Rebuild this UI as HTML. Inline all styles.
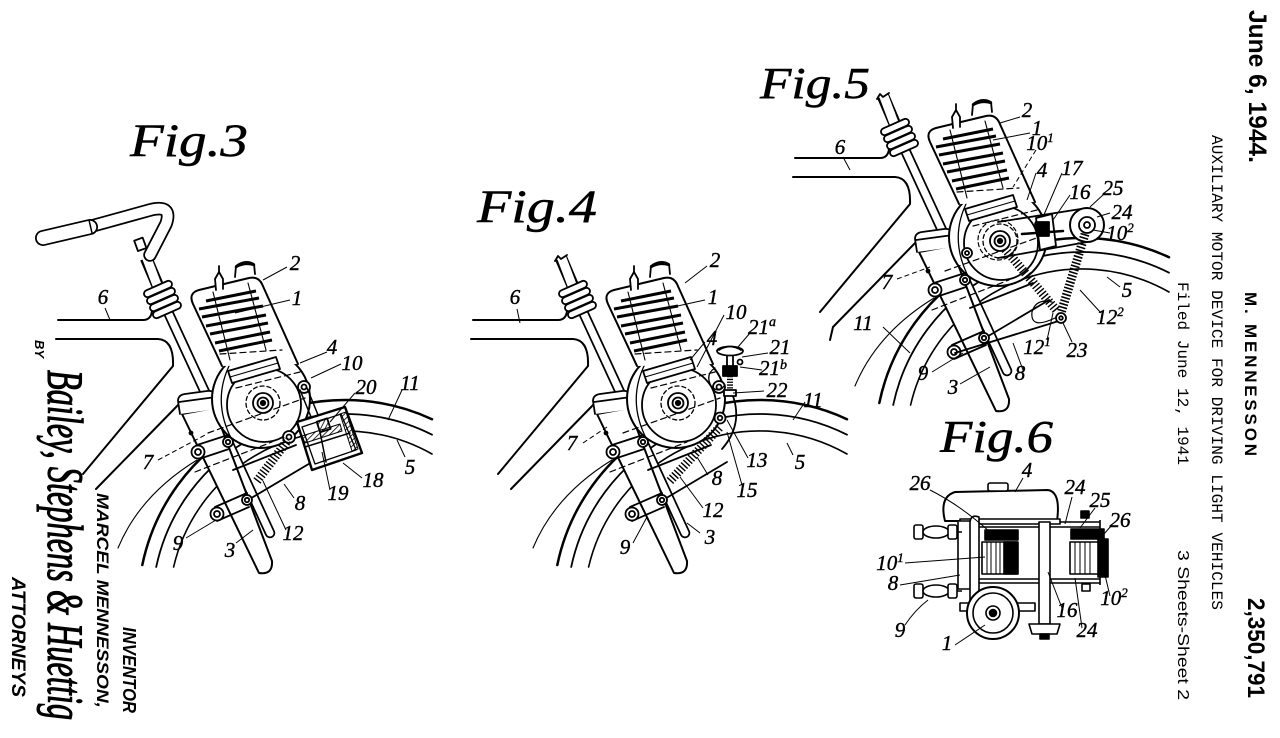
<!DOCTYPE html>
<html><head><meta charset="utf-8"><style>
html,body{margin:0;padding:0;background:#fff;width:1280px;height:738px;overflow:hidden;}
svg{display:block;}
text{font-family:"Liberation Serif",serif;}
.lb{font-family:"Liberation Serif",serif;font-style:italic;font-size:21px;fill:#000;stroke:#000;stroke-width:0.4;}
</style></head><body>
<svg width="1280" height="738" viewBox="0 0 1280 738" xmlns="http://www.w3.org/2000/svg">
<defs>
<pattern id="h" width="4" height="4" patternUnits="userSpaceOnUse" patternTransform="rotate(45)"><line x1="0" y1="0" x2="0" y2="4" stroke="#000" stroke-width="1.6"/></pattern>
<g id="bike" fill="none" stroke="#000" stroke-width="1.8" stroke-linejoin="round" stroke-linecap="round">
 <path d="M142.3,565 A207,207 0 0 1 432,419.2" stroke-width="2.5"/>
 <path d="M156.2,567 A193,193 0 0 1 432,434.7" stroke-width="1.8"/>
 <path d="M173.6,567 A176,176 0 0 1 432,454" stroke-width="1.6"/>
 <path d="M118,548 Q140,495 197,460" stroke-width="1.1"/>
 <path d="M58,320 L143,320 Q151,320 152,311" stroke-width="2"/>
 <path d="M56,339 L158,339 Q174,340 173,366 L83,474" stroke-width="2"/>
 <path d="M181,402 L96,489" stroke-width="2"/>
 <path d="M168,312 L270,533" stroke-width="10.5"/>
 <path d="M168,312 L270,533" stroke="#fff" stroke-width="7"/>
 <path d="M182,414 L214,408 L272,561 Q273,575 259,573 Z" fill="#fff" stroke-width="2"/>
 <circle cx="191" cy="433" r="1.5" fill="#000"/>
 <path d="M180,414 L178,401 Q178,395 185,394 L207,391 Q214,390 215,396 L217,409" fill="#fff"/>
 <path d="M179,402 L216,397"/>
 <path d="M146,258 L160,291" stroke-width="12.5" stroke-linecap="butt"/>
 <path d="M146,256 L160,293" stroke="#fff" stroke-width="9" stroke-linecap="butt"/>
 <g fill="#fff">
  <rect x="-15" y="-3.5" width="30" height="7" rx="3.5" transform="translate(158,289) rotate(-24)"/>
  <rect x="-15" y="-3.5" width="30" height="7" rx="3.5" transform="translate(161,296) rotate(-24)"/>
  <rect x="-15" y="-3.5" width="30" height="7" rx="3.5" transform="translate(164,303) rotate(-24)"/>
  <rect x="-15" y="-3.5" width="30" height="7" rx="3.5" transform="translate(167,310) rotate(-24)"/>
 </g>
 <circle cx="261" cy="399" r="49" fill="#fff" stroke-width="2"/>
 <path d="M231,362 Q211,400 232,440" stroke-width="1.3"/>
 <path d="M222,366 L193,304 Q188,293 199,290 L249,278 Q258,276 262,284 L298,364" fill="#fff" stroke-width="2"/>
 <path d="M213,292 L230,360 M248,283 L266,350" stroke-width="1.1"/>
 <path d="M206,301 L256,291 M199,309 L259,298 M202,317 L263,306 M206,326 L266,315 M210,334 L268,323 M215,343 L270,332 M219,351 L272,340" stroke-width="3" stroke-linecap="butt"/>
 <path d="M216,290 L215,279 L219,272 L223,279 L223,289" fill="#fff"/>
 <path d="M219,272 L219,266" />
 <path d="M235,277 L236,266 Q245,259 254,264 L255,274" fill="#fff"/>
 <path d="M236,267 Q245,262 254,265" stroke-width="2.5"/>
 <circle cx="264" cy="405" r="37" fill="#fff"/>
 <path d="M228,371 L276,357 L280,369 L232,383 Z" fill="#fff"/>
 <path d="M230,377 L278,363" stroke-width="1.1"/>
 <circle cx="263" cy="403" r="17" stroke-dasharray="4 3" stroke-width="1.3"/>
 <circle cx="263" cy="403" r="10"/>
 <circle cx="263" cy="403" r="5.5"/>
 <circle cx="263" cy="403" r="2.2" fill="#000"/>
 <circle cx="304" cy="387" r="6" fill="#fff"/><circle cx="304" cy="387" r="2.5"/>
 <g stroke-dasharray="6 4" stroke-width="1.2">
  <path d="M220,354 L282,350"/>
  <path d="M236,388 L300,372"/>
  <path d="M208,433 L305,398"/>
  <path d="M195,472 L272,442"/>
 </g>
 <path d="M233,470 L296,445 M248,500 L312,462"/>
 <path d="M197,445 L228,435 M199,459 L229,449"/>
 <path d="M215,507 L247,493 M217,521 L249,507"/>
 <circle cx="198" cy="452" r="6.5" fill="#fff"/><circle cx="198" cy="452" r="3"/>
 <circle cx="228" cy="442" r="5" fill="#fff"/><circle cx="228" cy="442" r="2.2"/>
 <circle cx="217" cy="514" r="6.5" fill="#fff"/><circle cx="217" cy="514" r="3"/>
 <circle cx="247" cy="500" r="5" fill="#fff"/><circle cx="247" cy="500" r="2.2"/>
</g>
</defs>
<rect width="1280" height="738" fill="#fff"/>

<use href="#bike"/>
<use href="#bike" transform="translate(415,0)"/>
<use href="#bike" transform="translate(737,-162)"/>

<!-- FIG 3 specifics -->
<g fill="none" stroke="#000" stroke-width="1.8" stroke-linejoin="round" stroke-linecap="round">
 <path d="M92,226 L150,210 Q173,204 166,224 L150,255" stroke-width="13.5"/>
 <path d="M92,226 L150,210 Q173,204 166,224 L150,255" stroke="#fff" stroke-width="10"/>
 <path d="M43,238 L90,227" stroke-width="16"/>
 <path d="M43,238 L90,227" stroke="#fff" stroke-width="12.5"/>
 <path d="M89,220 L92,233" stroke-width="1.5"/>
 <rect x="136" y="239" width="9" height="11" fill="#fff" transform="rotate(-20 140 245)"/>
 <circle cx="289" cy="437" r="6" fill="#fff"/><circle cx="289" cy="437" r="2.5"/>
 <line x1="257" y1="481" x2="288" y2="440" stroke-width="9" stroke-dasharray="1.4 2" stroke-linecap="butt"/>
 <path d="M300,390 L318,434 M307,388 L325,432" stroke-width="1.5"/>
 <path d="M297,422 L345,407 L362,453 L312,470 Z" fill="#fff" stroke-width="2.4"/>
 <path d="M302,427 L341,414 L356,450 L315,464 Z" stroke-width="1.3"/>
 <path d="M302,436 L340,424 L342,431 L305,443 Z" fill="url(#h)" stroke-width="1"/>
 <path d="M340,414 L346,412 L358,449 L352,451 Z" fill="url(#h)" stroke-width="1"/>
 <path d="M305,447 L350,433" stroke-width="1.5"/>
 <rect x="318" y="420" width="11" height="11" fill="url(#h)" transform="rotate(-18 323 425)"/>
 <path d="M320,432 L326,462" stroke-width="1.5"/>
</g>
<g class="lb" text-anchor="middle">
 <text x="295" y="270">2</text><text x="297" y="305">1</text><text x="332" y="354">4</text>
 <text x="352" y="370">10</text><text x="366" y="394">20</text><text x="410" y="390">11</text>
 <text x="410" y="474">5</text><text x="373" y="487">18</text><text x="338" y="500">19</text>
 <text x="300" y="510">8</text><text x="293" y="540">12</text><text x="230" y="557">3</text>
 <text x="178" y="550">9</text><text x="148" y="469">7</text><text x="103" y="304">6</text>
</g>
<g fill="none" stroke="#000" stroke-width="1">
 <path d="M287,267 L263,280 M290,300 L235,313 M327,352 L300,363 M341,364 L311,378 M355,393 L330,422 M402,390 L388,420 M405,457 L397,440 M362,478 L343,463 M330,490 L322,452 M294,498 L284,484 M286,530 L263,481 M236,543 L253,530 M186,538 L216,520 M105,308 L110,320"/>
 <path d="M158,460 L207,434" stroke-dasharray="5 3"/>
</g>
<text x="130" y="156" font-size="47" font-style="italic" textLength="118" lengthAdjust="spacingAndGlyphs" stroke="#000" stroke-width="0.5">Fig.3</text>

<!-- FIG 4 specifics -->
<g fill="none" stroke="#000" stroke-width="1.8" stroke-linejoin="round" stroke-linecap="round">
 <path d="M555,261 L558,256 L561,259 L567,255"/>
 <line x1="670" y1="481" x2="720" y2="427" stroke-width="9" stroke-dasharray="1.4 2" stroke-linecap="butt"/>
 <path d="M733,396 Q743,425 722,449" />
 <circle cx="720" cy="418" r="5.5" fill="#fff"/><circle cx="720" cy="418" r="2.3"/>
 <path d="M715,368 Q705,374 711,386 Q719,394 724,386" stroke-width="1.3"/>
 <rect x="727" y="355" width="6" height="12" fill="#fff"/>
 <rect x="723" y="366" width="14" height="10" fill="#000"/>
 <line x1="730" y1="376" x2="730" y2="391" stroke-width="6" stroke-dasharray="1.3 1.5" stroke-linecap="butt"/>
 <rect x="724" y="390" width="12" height="6" fill="#fff"/>
 <ellipse cx="730" cy="351" rx="13" ry="4.5" fill="#fff"/>
 <path d="M719,350 Q730,343 741,350"/>
 <circle cx="740" cy="362" r="2.5"/>
</g>
<g class="lb" text-anchor="middle">
 <text x="715" y="267">2</text><text x="713" y="304">1</text><text x="736" y="319">10</text>
 <text x="712" y="345">4</text>
 <text x="762" y="334">21<tspan font-size="14" dy="-8">a</tspan></text>
 <text x="780" y="354">21</text>
 <text x="773" y="375">21<tspan font-size="14" dy="-6">b</tspan></text>
 <text x="777" y="397">22</text><text x="813" y="407">11</text><text x="800" y="469">5</text>
 <text x="757" y="467">13</text><text x="747" y="497">15</text><text x="717" y="485">8</text>
 <text x="713" y="517">12</text><text x="710" y="544">3</text><text x="625" y="554">9</text>
 <text x="572" y="450">7</text><text x="515" y="304">6</text>
</g>
<g fill="none" stroke="#000" stroke-width="1">
 <path d="M707,266 L685,283 M705,300 L673,307 M724,315 L697,367 M705,342 L690,360 M750,333 L738,347 M768,353 L742,357 M762,370 L740,367 M764,391 L733,393 M805,402 L793,420 M793,455 L787,443 M748,458 L727,420 M742,485 L727,432 M708,475 L697,457 M703,508 L680,477 M700,533 L687,523 M633,543 L647,517 M517,309 L520,323"/>
 <path d="M583,443 L607,427" stroke-dasharray="5 3"/>
</g>
<text x="477" y="222" font-size="47" font-style="italic" textLength="120" lengthAdjust="spacingAndGlyphs" stroke="#000" stroke-width="0.5">Fig.4</text>

<!-- FIG 5 specifics -->
<g fill="none" stroke="#000" stroke-width="1.8" stroke-linejoin="round" stroke-linecap="round">
 <path d="M877,99 L880,94 L883,97 L889,93"/>
 <circle cx="998" cy="240" r="20" stroke-dasharray="4 3" stroke-width="1.2"/>
 <path d="M998,222 L1087,208 M998,258 L1087,242"/>
 <circle cx="967" cy="253" r="5" fill="#fff"/><circle cx="967" cy="253" r="2"/>
 <circle cx="1087" cy="225" r="17" fill="#fff" stroke-width="2"/>
 <circle cx="1087" cy="225" r="8"/><circle cx="1087" cy="225" r="3"/>
 <path d="M1036,218 L1052,214 L1056,246 L1040,250 Z" fill="#fff"/>
 <rect x="1037" y="222" width="12" height="14" fill="#000"/>
 <path d="M1022,234 L1063,231" stroke-width="2.5"/>
 <line x1="1005" y1="249" x2="1057" y2="311" stroke-width="9" stroke-dasharray="1.4 2" stroke-linecap="butt"/>
 <line x1="1085" y1="234" x2="1061" y2="313" stroke-width="9" stroke-dasharray="1.6 1.7" stroke-linecap="butt"/>
 <path d="M955,353 L1062,320"/>
 <path d="M1055,318 Q1030,330 1032,312 Q1036,298 1052,302" stroke-width="1.2"/>
 <circle cx="1061" cy="318" r="5" fill="#fff"/><circle cx="1061" cy="318" r="1.8"/>
 <path d="M833,327 L830,340" stroke-width="2"/>
</g>
<g class="lb" text-anchor="middle">
 <text x="1027" y="117">2</text><text x="1037" y="135">1</text>
 <text x="1040" y="150">10<tspan font-size="13" dy="-8">1</tspan></text>
 <text x="1042" y="177">4</text><text x="1072" y="175">17</text><text x="1080" y="199">16</text>
 <text x="1113" y="195">25</text><text x="1122" y="219">24</text>
 <text x="1120" y="240">10<tspan font-size="13" dy="-8">2</tspan></text>
 <text x="840" y="154">6</text><text x="887" y="289">7</text><text x="1127" y="297">5</text>
 <text x="1110" y="324">12<tspan font-size="13" dy="-8">2</tspan></text>
 <text x="863" y="330">11</text>
 <text x="1037" y="354">12<tspan font-size="13" dy="-8">1</tspan></text>
 <text x="1077" y="357">23</text><text x="923" y="380">9</text><text x="953" y="394">3</text>
 <text x="1020" y="380">8</text>
</g>
<g fill="none" stroke="#000" stroke-width="1">
 <path d="M1020,117 L1000,123 M1030,133 L993,140 M1036,173 L1027,200 M1062,173 L1043,217 M1070,195 L1053,220 M1104,194 L1090,207 M1110,213 L1097,217 M1110,233 L1093,230 M843,157 L850,170 M1120,287 L1107,277 M1101,313 L1080,290 M883,327 L910,353 M1047,340 L1053,313 M1072,342 L1063,323 M932,372 L963,353 M960,384 L990,367 M1023,370 L1013,343"/>
 <path d="M1036,150 L1013,187 M897,279 L930,267" stroke-dasharray="5 3"/>
</g>
<text x="760" y="98" font-size="44" font-style="italic" textLength="110" lengthAdjust="spacingAndGlyphs" stroke="#000" stroke-width="0.5">Fig.5</text>

<!-- FIG 6 -->
<g fill="none" stroke="#000" stroke-width="1.6" stroke-linejoin="round">
 <path d="M958,522 L1100,522 M962,527 L1100,527 M958,579 L1100,579 M962,583 L1100,583"/>
 <path d="M1100,520 L1100,585"/>
 <path d="M945,521 Q939,497 955,492 L1048,490 Q1061,492 1057,521 Z" fill="#fff" stroke-width="2"/>
 <rect x="988" y="483" width="20" height="8" rx="2" fill="#fff"/>
 <rect x="960" y="519" width="100" height="5" fill="#fff"/>
 <rect x="958" y="521" width="13" height="68" fill="#fff"/>
 <rect x="985" y="530" width="33" height="10" fill="#000"/>
 <rect x="1071" y="529" width="33" height="10" fill="#000"/>
 <rect x="982" y="542" width="36" height="32" fill="#fff"/>
 <path d="M987,542 V574 M991,542 V574 M996,542 V574 M1000,542 V574" stroke-width="1"/>
 <rect x="1004" y="542" width="13" height="32" fill="#000"/>
 <rect x="1070" y="542" width="36" height="32" fill="#fff"/>
 <path d="M1075,542 V574 M1080,542 V574 M1085,542 V574 M1090,542 V574" stroke-width="1"/>
 <rect x="1098" y="539" width="10" height="38" fill="#000"/>
 <rect x="1039" y="522" width="11" height="102" fill="#fff"/>
 <path d="M1029,624 L1060,624 L1057,634 L1032,634 Z" fill="#fff"/>
 <rect x="1040" y="634" width="9" height="5" fill="#000"/>
 <rect x="1081" y="511" width="8" height="7" fill="#000"/>
 <rect x="1082" y="584" width="8" height="7" fill="#fff"/>
 <path d="M957,532 L962,532 M957,591 L962,591"/>
 <rect x="914" y="525" width="9" height="14" rx="2" fill="#fff"/>
 <ellipse cx="936" cy="532" rx="13" ry="6" fill="#fff"/>
 <rect x="948" y="525" width="9" height="14" rx="2" fill="#fff"/>
 <rect x="914" y="584" width="9" height="14" rx="2" fill="#fff"/>
 <ellipse cx="936" cy="591" rx="13" ry="6" fill="#fff"/>
 <rect x="948" y="584" width="9" height="14" rx="2" fill="#fff"/>
 <path d="M970,522 Q971,514 979,517 L979,610 L970,610 Z" fill="#fff"/>
 <rect x="960" y="603" width="75" height="8" fill="#fff"/>
 <circle cx="993" cy="613" r="26" fill="#fff" stroke-width="2"/>
 <circle cx="993" cy="613" r="20"/>
 <circle cx="993" cy="613" r="7"/>
 <circle cx="993" cy="613" r="3.5" fill="#000"/>
</g>
<g class="lb" text-anchor="middle">
 <text x="1027" y="477">4</text><text x="920" y="490">26</text><text x="1075" y="494">24</text>
 <text x="1100" y="507">25</text><text x="1120" y="527">26</text>
 <text x="890" y="570">10<tspan font-size="13" dy="-8">1</tspan></text>
 <text x="893" y="590">8</text><text x="900" y="637">9</text><text x="947" y="650">1</text>
 <text x="1067" y="617">16</text><text x="1087" y="637">24</text>
 <text x="1114" y="605">10<tspan font-size="13" dy="-8">2</tspan></text>
</g>
<g fill="none" stroke="#000" stroke-width="1">
 <path d="M1023,478 L1015,492 M930,490 Q960,505 990,532 M1072,497 L1065,524 M1095,508 L1080,528 M1112,525 L1103,535 M905,563 L985,557 M900,585 L960,575 M905,625 Q915,610 928,600 M955,645 L985,625 M1062,608 L1048,572 M1082,628 L1075,578 M1110,596 L1105,575"/>
</g>
<text x="940" y="452" font-size="46" font-style="italic" textLength="113" lengthAdjust="spacingAndGlyphs" stroke="#000" stroke-width="0.5">Fig.6</text>

<!-- Right header text -->
<g fill="#000">
 <text transform="translate(1249,10) rotate(90)" style="font-family:'Liberation Sans',sans-serif;font-weight:bold;font-size:25px" textLength="153" lengthAdjust="spacingAndGlyphs">June 6, 1944.</text>
 <text transform="translate(1245,292) rotate(90)" style="font-family:'Liberation Sans',sans-serif;font-weight:bold;font-size:17px" textLength="164" lengthAdjust="spacing">M. MENNESSON</text>
 <text transform="translate(1248,598) rotate(90)" style="font-family:'Liberation Sans',sans-serif;font-weight:bold;font-size:24px" textLength="100" lengthAdjust="spacingAndGlyphs">2,350,791</text>
 <text transform="translate(1212,135) rotate(90)" style="font-family:'Liberation Mono',monospace;font-size:16px" textLength="475" lengthAdjust="spacingAndGlyphs">AUXILIARY MOTOR DEVICE FOR DRIVING LIGHT VEHICLES</text>
 <text transform="translate(1178,282) rotate(90)" style="font-family:'Liberation Mono',monospace;font-size:16px" textLength="183" lengthAdjust="spacingAndGlyphs">Filed June 12, 1941</text>
 <text transform="translate(1178,550) rotate(90)" style="font-family:'Liberation Sans',sans-serif;font-size:16px" textLength="150" lengthAdjust="spacingAndGlyphs">3 Sheets-Sheet 2</text>
</g>

<!-- Left inventor / attorney block -->
<g fill="#000">
 <text transform="translate(35,340) rotate(90)" style="font-family:'Liberation Sans',sans-serif;font-weight:bold;font-style:italic;font-size:13px" textLength="18" lengthAdjust="spacingAndGlyphs">BY</text>
 <text transform="translate(97,493) rotate(90)" style="font-family:'Liberation Sans',sans-serif;font-weight:bold;font-style:italic;font-size:17px" textLength="215" lengthAdjust="spacingAndGlyphs">MARCEL MENNESSON,</text>
 <text transform="translate(123,627) rotate(90)" style="font-family:'Liberation Sans',sans-serif;font-weight:bold;font-style:italic;font-size:18px" textLength="86" lengthAdjust="spacingAndGlyphs">INVENTOR</text>
 <text transform="translate(12,577) rotate(90)" style="font-family:'Liberation Sans',sans-serif;font-weight:bold;font-style:italic;font-size:19px" textLength="120" lengthAdjust="spacingAndGlyphs">ATTORNEYS</text>
 <text transform="translate(48,370) rotate(90) scale(1,1.6)" style="font-family:'Liberation Serif',serif;font-style:italic;font-size:32px" stroke="#000" stroke-width="0.7" textLength="350" lengthAdjust="spacingAndGlyphs">Bailey, Stephens &amp; Huettig</text>
</g>
</svg>
</body></html>
